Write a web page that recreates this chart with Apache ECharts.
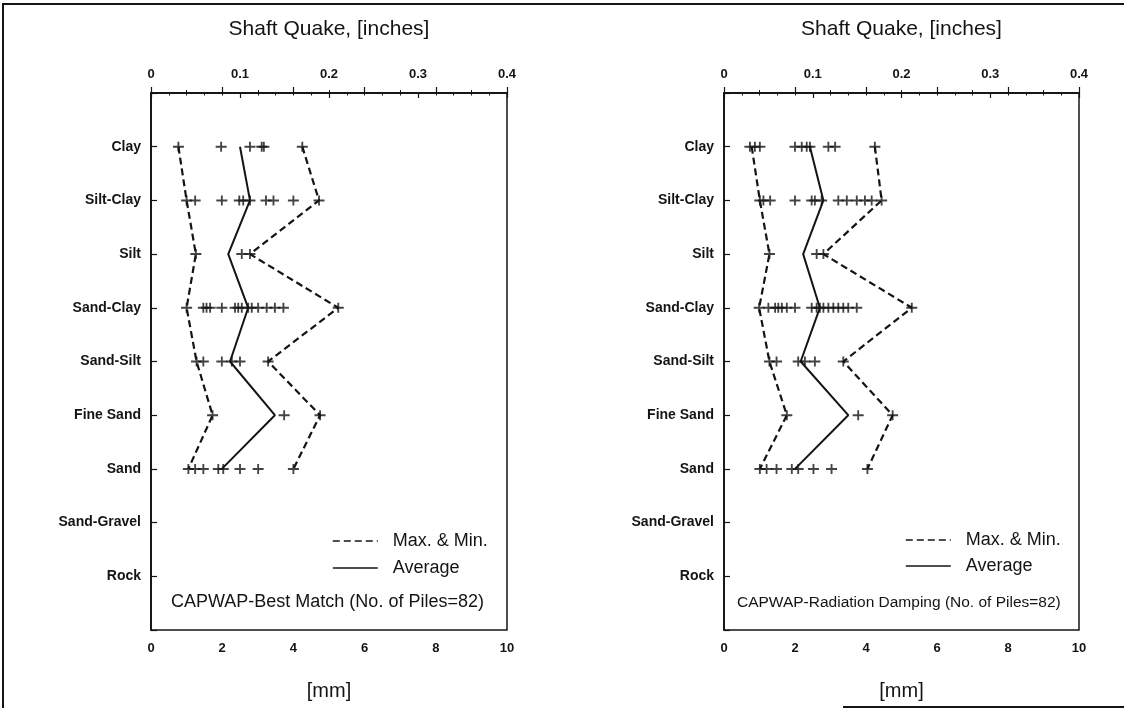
<!DOCTYPE html>
<html>
<head>
<meta charset="utf-8">
<script src="https://cdn.jsdelivr.net/npm/echarts@6/dist/echarts.min.js"></script>
<style>
  html, body { margin: 0; padding: 0; background: #fff; }
  #chart { width: 1124px; height: 710px; }
</style>
</head>
<body>
<div id="chart"></div>
<script>
// Soil types, top to bottom
const categories = ['Clay', 'Silt-Clay', 'Silt', 'Sand-Clay', 'Sand-Silt', 'Fine Sand', 'Sand', 'Sand-Gravel', 'Rock'];

// Shaft quake [mm] — CAPWAP best match
const bestMax = [4.25, 4.72, 2.78, 5.26, 3.29, 4.75, 4.00];
const bestMin = [0.77, 1.00, 1.26, 1.00, 1.28, 1.73, 1.05];
const bestAvg = [2.50, 2.78, 2.17, 2.73, 2.22, 3.48, 1.99];
const bestPiles = [
  [0.77, 1.97, 2.78, 3.11, 3.17, 4.25],
  [1.00, 1.24, 1.99, 2.48, 2.59, 2.78, 3.23, 3.44, 4.00, 4.72],
  [1.26, 2.55, 2.78],
  [1.00, 1.47, 1.56, 1.66, 1.99, 2.36, 2.45, 2.55, 2.73, 2.83, 3.01, 3.25, 3.48, 3.72, 5.26],
  [1.28, 1.47, 1.99, 2.27, 2.50, 3.29],
  [1.73, 3.74, 4.75],
  [1.05, 1.24, 1.47, 1.89, 2.03, 2.50, 3.01, 4.00]
];

// Shaft quake [mm] — CAPWAP radiation damping
const radMax = [4.25, 4.44, 2.80, 5.29, 3.36, 4.75, 4.04];
const radMin = [0.78, 1.01, 1.28, 0.99, 1.28, 1.77, 1.01];
const radAvg = [2.42, 2.80, 2.23, 2.70, 2.16, 3.50, 2.00];
const radPiles = [
  [0.73, 0.87, 1.01, 2.00, 2.19, 2.33, 2.42, 2.94, 3.13, 4.25],
  [1.01, 1.11, 1.30, 2.00, 2.47, 2.56, 2.75, 3.22, 3.46, 3.74, 3.97, 4.16, 4.44],
  [1.28, 2.61, 2.80],
  [0.99, 1.25, 1.44, 1.53, 1.63, 1.77, 2.00, 2.47, 2.61, 2.70, 2.80, 2.94, 3.08, 3.22, 3.36, 3.50, 3.74, 5.29],
  [1.28, 1.48, 2.09, 2.28, 2.56, 3.36],
  [1.77, 3.78, 4.75],
  [1.01, 1.20, 1.48, 1.91, 2.09, 2.52, 3.03, 4.04]
];

// Axis ticks
const mmTicks = { min: 0, max: 10, interval: 2 };
const inchTicks = { min: 0, max: 0.4, interval: 0.1 };

const INK = '#141414';
const FONT = '"Liberation Sans", Arial, Helvetica, sans-serif';
const CROSS = 'path://M0,4H12V6H0Z M5,0H7V10H5Z';

const toPoints = vals => vals.map((v, i) => [v, i + 1]);
const toScatter = rows => {
  const out = [];
  rows.forEach((row, i) => row.forEach(v => out.push([v, i + 1])));
  return out;
};

const panels = [
  { left: 151, width: 356, max: bestMax, min: bestMin, avg: bestAvg, piles: bestPiles },
  { left: 724, width: 355, max: radMax, min: radMin, avg: radAvg, piles: radPiles }
];

const grids = panels.map(p => ({
  left: p.left, top: 93, width: p.width, height: 537,
  show: true, borderColor: INK, borderWidth: 1.5, backgroundColor: 'transparent'
}));

const xAxes = [];
const yAxes = [];
const series = [];

panels.forEach((p, k) => {
  xAxes.push({
    type: 'value', gridIndex: k, position: 'bottom',
    min: mmTicks.min, max: mmTicks.max, interval: mmTicks.interval,
    name: '[mm]', nameLocation: 'middle', nameGap: 51,
    nameTextStyle: { fontFamily: FONT, fontSize: 20, color: INK },
    axisLine: { show: true, lineStyle: { color: INK, width: 1.5 } },
    axisTick: { show: true, inside: true, length: 6, lineStyle: { color: INK, width: 1.2 } },
    minorTick: { show: true, splitNumber: 2, length: 3, lineStyle: { color: INK, width: 1 } },
    axisLabel: { margin: 12, fontFamily: FONT, fontSize: 13, fontWeight: 'bold', color: INK },
    splitLine: { show: false }
  });
  xAxes.push({
    type: 'value', gridIndex: k, position: 'top',
    min: inchTicks.min, max: inchTicks.max, interval: inchTicks.interval,
    name: 'Shaft Quake, [inches]', nameLocation: 'middle', nameGap: 53,
    nameTextStyle: { fontFamily: FONT, fontSize: 21, color: INK },
    axisLine: { show: true, lineStyle: { color: INK, width: 1.5 } },
    axisTick: { show: true, inside: true, length: 5, lineStyle: { color: INK, width: 1.2 } },
    minorTick: { show: true, splitNumber: 5, length: 2.5, lineStyle: { color: INK, width: 1 } },
    axisLabel: {
      margin: 12, fontFamily: FONT, fontSize: 13, fontWeight: 'bold', color: INK,
      formatter: v => (v === 0 ? '0' : v.toFixed(1))
    },
    splitLine: { show: false }
  });
  yAxes.push({
    type: 'value', gridIndex: k, inverse: true,
    min: 0, max: categories.length + 1, interval: 1,
    axisLine: { show: true, lineStyle: { color: INK, width: 1.8 } },
    axisTick: { show: true, inside: true, length: 6, lineStyle: { color: INK, width: 1.2 } },
    axisLabel: {
      margin: 10, fontFamily: FONT, fontSize: 14, fontWeight: 'bold', color: INK,
      formatter: v => categories[v - 1] || ''
    },
    splitLine: { show: false }
  });

  const common = { xAxisIndex: 2 * k, yAxisIndex: k, symbol: 'none', silent: true, animation: false };
  series.push(Object.assign({
    type: 'line', name: 'Max. & Min.', data: toPoints(p.max),
    lineStyle: { color: INK, width: 2.2, type: [7, 4] }, itemStyle: { color: INK }
  }, common));
  series.push(Object.assign({
    type: 'line', name: 'Max. & Min.', data: toPoints(p.min),
    lineStyle: { color: INK, width: 2.2, type: [7, 4] }, itemStyle: { color: INK }
  }, common));
  series.push(Object.assign({
    type: 'line', name: 'Average', data: toPoints(p.avg),
    lineStyle: { color: INK, width: 2 }, itemStyle: { color: INK }
  }, common));
  series.push({
    type: 'scatter', name: 'Piles', xAxisIndex: 2 * k, yAxisIndex: k,
    data: toScatter(p.piles), symbol: CROSS, symbolSize: [11, 10],
    itemStyle: { color: INK }, z: 5, silent: true, animation: false
  });
});

// Legend keys show the line pattern only, no point marker
const legendBase = {
  orient: 'vertical', data: ['Max. & Min.', 'Average'], selectedMode: false,
  itemWidth: 45, itemHeight: 14, itemGap: 7, padding: 0,
  itemStyle: { opacity: 0 },
  lineStyle: { width: 1.6 },
  textStyle: { fontFamily: FONT, fontSize: 18, color: INK, lineHeight: 20, padding: [0, 0, 0, 10] }
};

const option = {
  backgroundColor: '#fff',
  animation: false,
  grid: grids,
  xAxis: xAxes,
  yAxis: yAxes,
  series: series,
  legend: [
    Object.assign({ left: 332, top: 531 }, legendBase),
    Object.assign({}, legendBase, { left: 905, top: 530, itemGap: 6 })
  ],
  title: [
    { text: 'CAPWAP-Best Match (No. of Piles=82)', left: 171, top: 593, padding: 0,
      textStyle: { fontFamily: FONT, fontSize: 18, fontWeight: 'normal', color: INK } },
    { text: 'CAPWAP-Radiation Damping (No. of Piles=82)', left: 737, top: 595, padding: 0,
      textStyle: { fontFamily: FONT, fontSize: 15.5, fontWeight: 'normal', color: INK } }
  ],
  graphic: [
    { type: 'polyline', shape: { points: [[3, 708], [3, 4], [1124, 4]] },
      style: { stroke: INK, lineWidth: 2, fill: null }, silent: true },
    { type: 'line', shape: { x1: 843, y1: 707, x2: 1124, y2: 707 },
      style: { stroke: INK, lineWidth: 2 }, silent: true }
  ]
};

const chart = echarts.init(document.getElementById('chart'), null, { renderer: 'canvas' });
chart.setOption(option);
</script>
</body>
</html>
